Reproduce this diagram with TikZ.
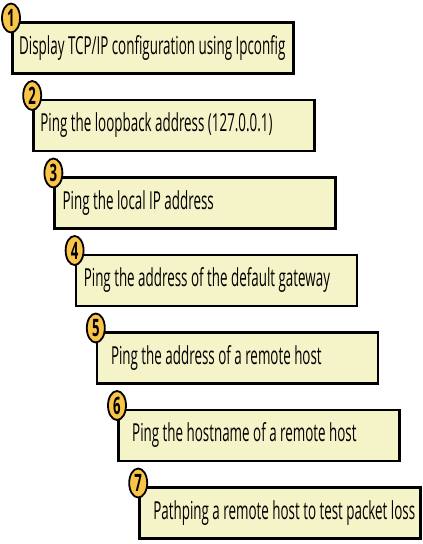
\documentclass[tikz,border=0pt]{standalone}
\usepackage{fontspec}
\setmainfont{Open Sans}
\usetikzlibrary{positioning, shapes.geometric}
\definecolor{boxfill}{HTML}{F5F3C8}
\definecolor{badgefill}{HTML}{F9C448}

\begin{document}
\begin{tikzpicture}[
    x=1pt, y=-1pt,
    stepbox/.style={
        draw=black,
        fill=boxfill,
        line width=2.5pt,
        minimum width=281pt,
        minimum height=51pt,
        anchor=north west,
        inner sep=0pt
    },
    badge/.style={
        ellipse,
        draw=black,
        fill=badgefill,
        line width=1.8pt,
        minimum width=18pt,
        minimum height=29pt,
        inner sep=0pt,
        font=\bfseries\fontsize{24}{24}\selectfont
    },
    steptext/.style={
        anchor=west,
        inner sep=0pt,
        font=\fontsize{24.8}{28}\selectfont
    }
]
\useasboundingbox (0,0) rectangle (423,544);

% --- MACRO: DRAW STEP ---
\newcommand{\drawstep}[3]{
    \node[stepbox] (box#1) at ({11+21.2*(#1-1)}, {21+77.5*(#1-1)}) {};
    \node[badge, yshift=3pt] (num#1) at (box#1.north west) {\scalebox{0.55}[1]{#1}};
    \node[steptext, right=#2pt of box#1.west] (txt#1) {\scalebox{0.54}[1]{#3}};
}

% --- STEPS ---
\drawstep{1}{8}{Display TCP/IP configuration using Ipconfig}
\drawstep{2}{8}{Ping the loopback address (127.0.0.1)}
\drawstep{3}{9}{Ping the local IP address}
\drawstep{4}{9}{Ping the address of the default gateway}
\drawstep{5}{15}{Ping the address of a remote host}
\drawstep{6}{15}{Ping the hostname of a remote host}
\drawstep{7}{15}{Pathping a remote host to test packet loss}

\end{tikzpicture}
\end{document}
